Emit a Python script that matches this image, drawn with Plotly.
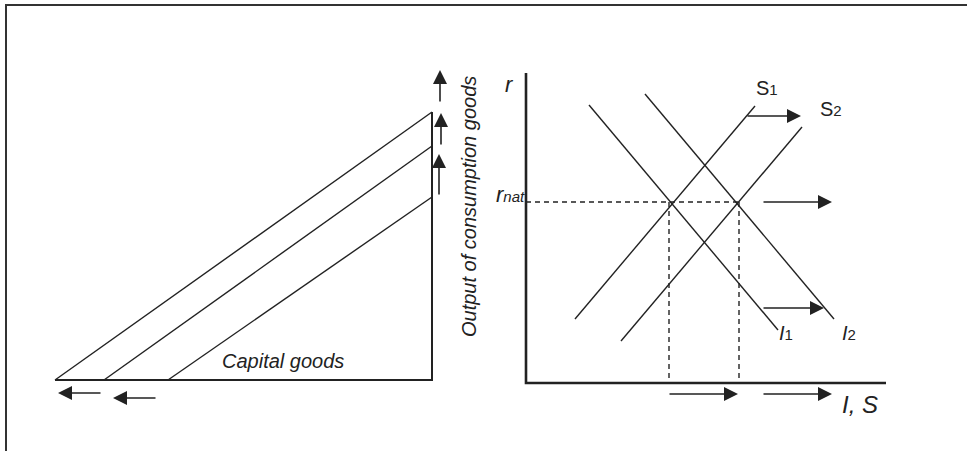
import plotly.graph_objects as go

# ---------------- data (diagram coordinates, x right, y down) ----------------
# Left panel: triangle of capital / consumption goods
tri_corner_x = [55, 432, 432]          # bottom-left, bottom-right, top-right
tri_corner_y = [380, 380, 112]
hyp_bottom_x = [55, 104, 168]          # three hypotenuses, bottom ends
hyp_bottom_y = [380, 380, 380]
hyp_top_x = [432, 432, 432]            # top ends on vertical side
hyp_top_y = [112, 146, 197]

# Right panel: loanable funds market
axis_origin = (526, 383)
axis_y_top = 73
axis_x_end = 886
curve_names = ["I1", "I2", "S1", "S2"]
curve_x0 = [589, 645, 575, 621]
curve_y0 = [105, 94, 319, 341]
curve_x1 = [778, 834, 755, 802]
curve_y1 = [330, 319, 106, 127]

r_nat_y = 202
eq_x = [669, 739]                       # equilibrium I,S quantities

# Arrows: tail -> tip
arrow_tail_x = [440, 441, 439, 102, 157, 746, 762, 762, 668, 762]
arrow_tail_y = [103, 146, 196, 393, 398, 116, 202, 308, 394, 394]
arrow_tip_x = [440, 441, 439, 58, 113, 801, 832, 824, 738, 832]
arrow_tip_y = [70, 113, 154, 393, 398, 116, 202, 308, 394, 394]

# Text labels
label_text = [
    "<i>Capital goods</i>",
    "<i>r</i>",
    "<i>r<span style='font-size:15px'>nat</span></i>",
    "S<span style='font-size:15px'>1</span>",
    "S<span style='font-size:15px'>2</span>",
    "<i>I</i><span style='font-size:15px'>1</span>",
    "<i>I</i><span style='font-size:15px'>2</span>",
    "<i>I, S</i>",
]
label_x = [220, 503, 494, 754, 818, 777, 840, 840]
label_y = [361, 84, 194, 88, 109, 333, 333, 404]
label_size = [20, 22, 22, 20, 20, 20, 20, 24]
y_title = "<i>Output of consumption goods</i>"
y_title_pos = (469, 207)

INK = "#222222"

fig = go.Figure()

def seg_trace(xs, ys, width, dash=None, color=INK):
    fig.add_trace(go.Scatter(x=xs, y=ys, mode="lines", hoverinfo="skip",
                             line=dict(color=color, width=width, dash=dash),
                             showlegend=False))

# frame (top + left)
seg_trace([6, 6, 967], [451, 5, 5], 2, color="#333333")

# triangle
seg_trace(tri_corner_x, tri_corner_y, 2)
hx, hy = [], []
for a, b, c, d in zip(hyp_bottom_x, hyp_bottom_y, hyp_top_x, hyp_top_y):
    hx += [a, c, None]
    hy += [b, d, None]
seg_trace(hx, hy, 1.4)

# axes of right panel
ox, oy = axis_origin
seg_trace([ox, ox, axis_x_end], [axis_y_top, oy, oy], 2.6)

# I and S curves
cx, cy = [], []
for a, b, c, d in zip(curve_x0, curve_y0, curve_x1, curve_y1):
    cx += [a, c, None]
    cy += [b, d, None]
seg_trace(cx, cy, 1.4)

# dashed guides
dx = [ox, eq_x[1], None]
dy = [r_nat_y, r_nat_y, None]
for e in eq_x:
    dx += [e, e, None]
    dy += [r_nat_y, oy, None]
seg_trace(dx, dy, 1.4, dash="5px,4px")

annotations = []
for tx, ty, hx_, hy_ in zip(arrow_tail_x, arrow_tail_y, arrow_tip_x, arrow_tip_y):
    annotations.append(dict(x=hx_, y=hy_, ax=tx, ay=ty, xref="x", yref="y",
                            axref="x", ayref="y", text="", showarrow=True,
                            arrowhead=2, arrowsize=1.75, arrowwidth=1.6,
                            arrowcolor=INK, standoff=0, startstandoff=0))

for t, x, y, s in zip(label_text, label_x, label_y, label_size):
    annotations.append(dict(x=x, y=y, xref="x", yref="y", text=t, showarrow=False,
                            xanchor="left", yanchor="middle",
                            font=dict(family="Liberation Sans, Arial", size=s, color=INK)))

annotations.append(dict(x=y_title_pos[0], y=y_title_pos[1], xref="x", yref="y",
                        text=y_title, showarrow=False, textangle=-90,
                        xanchor="center", yanchor="middle",
                        font=dict(family="Liberation Sans, Arial", size=20, color=INK)))

fig.update_layout(
    width=967, height=451,
    margin=dict(l=0, r=0, t=0, b=0),
    paper_bgcolor="white", plot_bgcolor="white",
    xaxis=dict(range=[0, 967], visible=False, fixedrange=True),
    yaxis=dict(range=[451, 0], visible=False, fixedrange=True),
    annotations=annotations,
    showlegend=False,
)

fig.write_html("out.html",
               config={"displayModeBar": False},
               post_script="document.body.style.margin='0';document.body.style.overflow='hidden';")
